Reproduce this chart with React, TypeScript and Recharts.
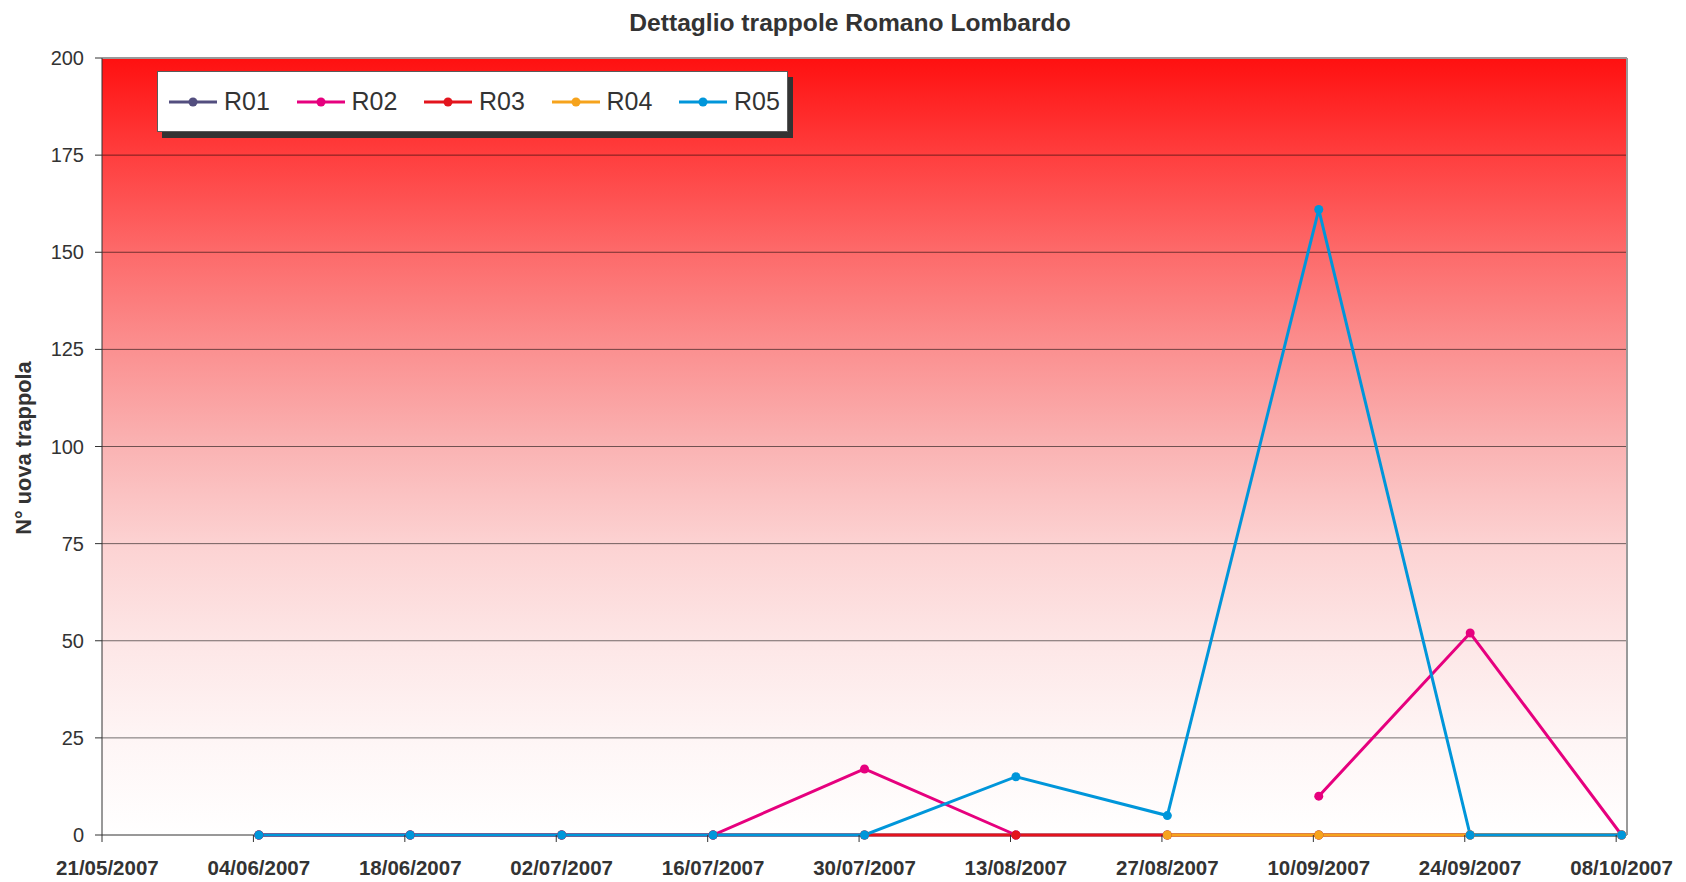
import React from 'react';
import { LineChart, Line, XAxis, YAxis, CartesianGrid, Legend, ReferenceLine } from 'recharts';

const TITLE = 'Dettaglio trappole Romano Lombardo';
const Y_LABEL = 'N° uova trappola';

const tickDates = [
  '21/05/2007', '04/06/2007', '18/06/2007', '02/07/2007', '16/07/2007', '30/07/2007',
  '13/08/2007', '27/08/2007', '10/09/2007', '24/09/2007', '08/10/2007',
];
const sampleDates = [
  '04/06/2007', '18/06/2007', '02/07/2007', '16/07/2007', '30/07/2007',
  '13/08/2007', '27/08/2007', '10/09/2007', '24/09/2007', '08/10/2007',
];
const seriesNames = ['R01', 'R02', 'R03', 'R04', 'R05'];
const seriesColors = ['#534E7F', '#E6007E', '#E3141D', '#F6A31C', '#0096DA'];

const r01 = [0, 0, 0, 0, 0, 0, 0, 0, 0, 0];
const r02 = [0, 0, 0, 0, 17, 0, null, 10, 52, 0];
const r03 = [0, 0, 0, 0, 0, 0, 0, 0, 0, 0];
const r04 = [null, null, null, null, null, null, 0, 0, 0, 0];
const r05 = [0, 0, 0, 0, 0, 15, 5, 161, 0, 0];
const seriesValues = [r01, r02, r03, r04, r05];

const yTicks = [0, 25, 50, 75, 100, 125, 150, 175, 200];

const FONT = '"Liberation Sans", Arial, Helvetica, sans-serif';
const W = 1686;
const H = 882;
const PLOT_LEFT = 102;
const PLOT_RIGHT = 1627;
const PLOT_TOP = 58;
const PLOT_BOTTOM = 835;

function dayOf(s: string): number {
  const [d, m, y] = s.split('/').map(Number);
  const [d0, m0, y0] = tickDates[0].split('/').map(Number);
  return Math.round((Date.UTC(y, m - 1, d) - Date.UTC(y0, m0 - 1, d0)) / 86400000);
}

const tickDays = tickDates.map(dayOf);
const X_MAX = tickDays[tickDays.length - 1] + 1;
const HALF_DAY_PX = (PLOT_RIGHT - PLOT_LEFT) / X_MAX / 2;

const data = sampleDates.map((d, i) => {
  const row: any = { x: dayOf(d) + 0.5 };
  seriesNames.forEach((n, k) => {
    row[n] = seriesValues[k][i];
  });
  return row;
});

const XTick = (props: any) => {
  const { x, y, payload } = props;
  const idx = tickDays.indexOf(payload.value);
  const label = idx >= 0 ? tickDates[idx] : '';
  return (
    <text
      x={x + HALF_DAY_PX}
      y={y}
      dy="0.71em"
      textAnchor="middle"
      fontFamily={FONT}
      fontSize={20.5}
      fontWeight="bold"
      fill="#333"
    >
      {label}
    </text>
  );
};

const GridLine = (p: any) => {
  const isBase = Math.abs(p.y1 - PLOT_BOTTOM) < 1.5;
  return (
    <line
      x1={p.x1}
      y1={p.y1}
      x2={p.x2}
      y2={p.y2}
      stroke={isBase ? '#333' : '#000'}
      strokeOpacity={isBase ? 1 : 0.55}
      strokeWidth={1}
    />
  );
};

const renderLegend = () => (
  <div
    style={{
      width: 631,
      height: 61,
      boxSizing: 'border-box',
      border: '1px solid #5a5a5a',
      background: '#fff',
      boxShadow: '5px 6px 0 #333',
      display: 'flex',
      alignItems: 'center',
      paddingLeft: 11,
    }}
  >
    {seriesNames.map((n, i) => (
      <div key={n} style={{ display: 'flex', alignItems: 'center', width: 127.5, flex: 'none' }}>
        <svg width={48} height={12} style={{ display: 'block' }}>
          <line x1={0} y1={6} x2={48} y2={6} stroke={seriesColors[i]} strokeWidth={3} />
          <circle cx={24} cy={6} r={4.5} fill={seriesColors[i]} />
        </svg>
        <span style={{ marginLeft: 7, fontSize: 25, color: '#333', fontFamily: FONT, lineHeight: '25px' }}>{n}</span>
      </div>
    ))}
  </div>
);

export default function App() {
  return (
    <div style={{ position: 'absolute', left: 0, top: 0, width: W, height: H, background: '#fff', fontFamily: FONT }}>
      <LineChart
        width={W}
        height={H}
        data={data}
        margin={{ top: PLOT_TOP, right: W - PLOT_RIGHT, bottom: 0, left: 0 }}
      >
        <defs>
          <linearGradient id="plotBg" x1="0" y1="0" x2="0" y2="1">
            <stop offset="0" stopColor="#FF1010" />
            <stop offset="0.125" stopColor="#FF3E3E" />
            <stop offset="0.25" stopColor="#FD6A6A" />
            <stop offset="0.375" stopColor="#FB9090" />
            <stop offset="0.5" stopColor="#FAB3B3" />
            <stop offset="0.625" stopColor="#FCD2D2" />
            <stop offset="0.75" stopColor="#FDE6E6" />
            <stop offset="0.875" stopColor="#FEF5F5" />
            <stop offset="1" stopColor="#FFFFFF" />
          </linearGradient>
        </defs>
        <CartesianGrid
          vertical={false}
          horizontal={(p: any) => <GridLine key={p.key} {...p} />}
          fill="url(#plotBg)"
          fillOpacity={1}
          stroke="#000"
          strokeOpacity={0.55}
          strokeWidth={1}
        />
        <XAxis
          dataKey="x"
          type="number"
          domain={[0, X_MAX]}
          ticks={tickDays}
          interval={0}
          height={H - PLOT_BOTTOM}
          tickSize={7}
          tickMargin={18}
          axisLine={false}
          tickLine={{ stroke: '#333', strokeWidth: 1 }}
          tick={(p: any) => <XTick {...p} />}
        />
        <YAxis
          type="number"
          domain={[0, 200]}
          ticks={yTicks}
          interval={0}
          width={PLOT_LEFT}
          tickSize={7}
          tickMargin={11}
          axisLine={{ stroke: '#333', strokeWidth: 1 }}
          tickLine={{ stroke: '#333', strokeWidth: 1 }}
          tick={{ fontSize: 20, fill: '#333', fontFamily: FONT }}
        />
        <ReferenceLine y={200} stroke="#999" strokeWidth={2} />
        <ReferenceLine x={X_MAX} stroke="#999" strokeWidth={2} />
        <Legend
          layout="horizontal"
          verticalAlign="middle"
          align="center"
          content={renderLegend}
          wrapperStyle={{ left: 157, top: 71, width: 631, height: 61 }}
        />
        {seriesNames.map((n, i) => (
          <Line
            key={n}
            type="linear"
            dataKey={n}
            stroke={seriesColors[i]}
            strokeWidth={3}
            dot={{ r: 4.5, fill: seriesColors[i], stroke: seriesColors[i], strokeWidth: 0 }}
            activeDot={false}
            isAnimationActive={false}
            connectNulls={false}
          />
        ))}
      </LineChart>
      <svg
        width={W}
        height={H}
        style={{ position: 'absolute', left: 0, top: 0, pointerEvents: 'none' }}
      >
        <text x={850} y={31} textAnchor="middle" fontFamily={FONT} fontSize={24.6} fontWeight="bold" fill="#333">
          {TITLE}
        </text>
        <text
          x={0}
          y={0}
          transform={`translate(31, 448) rotate(-90)`}
          textAnchor="middle"
          fontFamily={FONT}
          fontSize={21.8}
          fontWeight="bold"
          fill="#333"
        >
          {Y_LABEL}
        </text>
      </svg>
    </div>
  );
}
